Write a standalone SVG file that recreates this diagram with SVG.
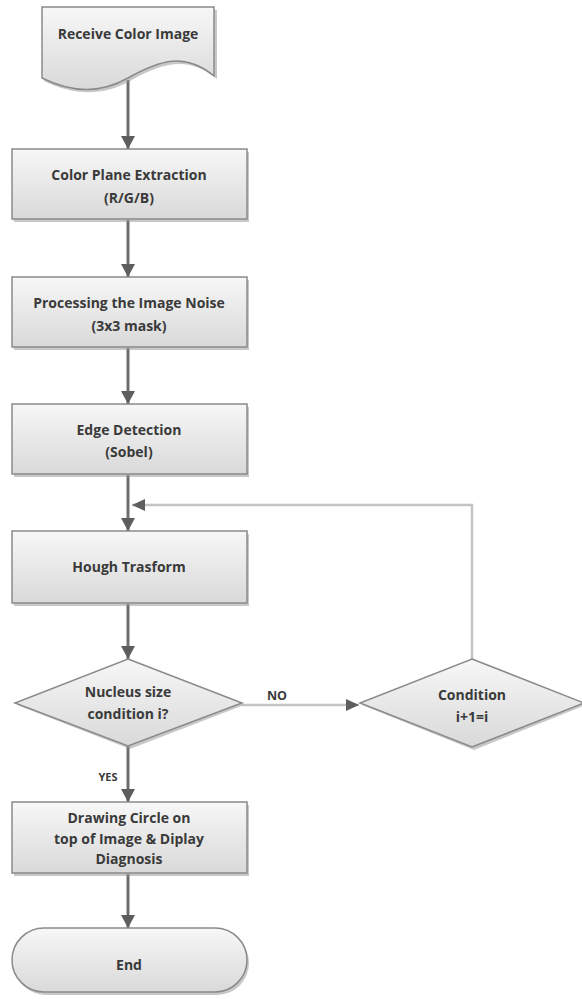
<svg xmlns="http://www.w3.org/2000/svg" width="582" height="1003" viewBox="0 0 582 1003">
<style>
.shape{fill:url(#g);stroke:#8a8a8a;stroke-width:1.5}
.shadow{fill:#9a9a9a;opacity:.55}
.lbl{font-family:"Open Sans","Liberation Sans",sans-serif;font-weight:bold;font-size:14px;fill:#3a3a3a;text-anchor:middle}
.conn{stroke:#6e6e6e;stroke-width:3;fill:none}
.fb{stroke:#c4c4c4;stroke-width:2.5;fill:none}
</style>
<defs>
<linearGradient id="g" x1="0" y1="0" x2="0" y2="1">
<stop offset="0" stop-color="#f7f7f7"/>
<stop offset="1" stop-color="#d9d9d9"/>
</linearGradient>
<marker id="ah" markerUnits="userSpaceOnUse" markerWidth="14" markerHeight="14" refX="13" refY="7" orient="auto">
<path d="M0,0 L13,7 L0,14 Z" fill="#5e5e5e"/>
</marker>
<marker id="ahs" markerUnits="userSpaceOnUse" markerWidth="14" markerHeight="14" refX="13" refY="7" orient="auto">
<path d="M0,1 L13,7 L0,13 Z" fill="#5e5e5e"/>
</marker>
</defs>

<g id="connectors">
<path class="conn" d="M128,80 V149" marker-end="url(#ah)"/>
<path class="conn" d="M128,220 V277" marker-end="url(#ah)"/>
<path class="conn" d="M128,348 V404" marker-end="url(#ah)"/>
<path class="conn" d="M128,475 V531" marker-end="url(#ah)"/>
<path class="conn" d="M128,604 V659" marker-end="url(#ah)"/>
<path class="conn" d="M128,746 V802" marker-end="url(#ah)"/>
<path class="conn" d="M128,874 V928" marker-end="url(#ah)"/>
<path class="fb" d="M242,705 H359" marker-end="url(#ahs)"/>
<path class="fb" d="M472,659 V505 H132" marker-end="url(#ahs)"/>
<text class="lbl" x="277" y="700" style="font-size:12.5px">NO</text>
<text class="lbl" x="108" y="781" style="font-size:11px">YES</text>
</g>

<g id="n1">
<path class="shadow" d="M44,10 H217 V79 C188,55 162,63 130,81 C102,97 72,95 44,81 Z"/>
<path class="shape" d="M42,7 H214 V76 C185,52 160,60 128,78 C100,94 70,92 42,78 Z"/>
<text class="lbl" x="128" y="39">Receive Color Image</text>
</g>

<g id="n2">
<rect class="shadow" x="14" y="152" width="235" height="70"/>
<rect class="shape" x="12" y="149" width="235" height="70"/>
<text class="lbl" x="129" y="180">Color Plane Extraction</text>
<text class="lbl" x="129" y="203">(R/G/B)</text>
</g>

<g id="n3">
<rect class="shadow" x="14" y="280" width="235" height="70"/>
<rect class="shape" x="12" y="277" width="235" height="70"/>
<text class="lbl" x="129" y="308">Processing the Image Noise</text>
<text class="lbl" x="129" y="331">(3x3 mask)</text>
</g>

<g id="n4">
<rect class="shadow" x="14" y="407" width="235" height="70"/>
<rect class="shape" x="12" y="404" width="235" height="70"/>
<text class="lbl" x="129" y="435">Edge Detection</text>
<text class="lbl" x="129" y="457">(Sobel)</text>
</g>

<g id="n5">
<rect class="shadow" x="14" y="534" width="235" height="72"/>
<rect class="shape" x="12" y="531" width="235" height="72"/>
<text class="lbl" x="129" y="572">Hough Trasform</text>
</g>

<g id="n6">
<path class="shadow" d="M130,662 L244,705 L130,749 L17,705 Z"/>
<path class="shape" d="M128,659 L242,703 L128,746 L15,703 Z"/>
<text class="lbl" x="128" y="697">Nucleus size</text>
<text class="lbl" x="128" y="719">condition i?</text>
</g>

<g id="n7">
<path class="shadow" d="M474,662 L586,705 L474,750 L362,705 Z"/>
<path class="shape" d="M472,659 L584,703 L472,747 L360,703 Z"/>
<text class="lbl" x="472" y="700">Condition</text>
<text class="lbl" x="472" y="722">i+1=i</text>
</g>

<g id="n8">
<rect class="shadow" x="14" y="805" width="235" height="71"/>
<rect class="shape" x="12" y="802" width="235" height="71"/>
<text class="lbl" x="129" y="823">Drawing Circle on</text>
<text class="lbl" x="129" y="844">top of Image &amp; Diplay</text>
<text class="lbl" x="129" y="864">Diagnosis</text>
</g>

<g id="n9">
<rect class="shadow" x="14" y="931" width="235" height="64" rx="32"/>
<rect class="shape" x="12" y="928" width="235" height="64" rx="32"/>
<text class="lbl" x="129" y="970">End</text>
</g>
</svg>
